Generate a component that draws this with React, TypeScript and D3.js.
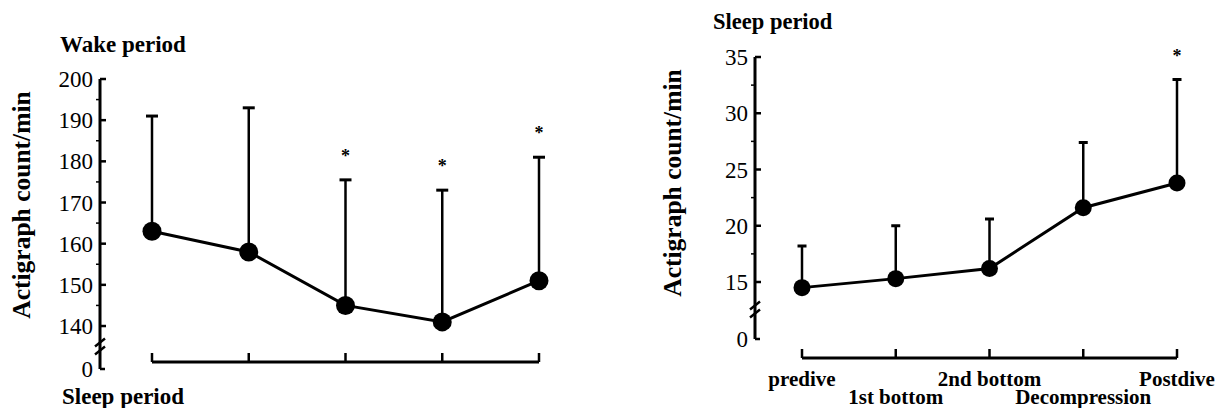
import React from "react";
import * as d3 from "d3";

// categories shared by both panels
const phases = ["predive", "1st bottom", "2nd bottom", "Decompression", "Postdive"];

// wake period (left panel)
const wakeMean = [163, 158, 145, 141, 151];
const wakeSD = [28, 35, 30.5, 32, 30];
const wakeSig = [false, false, true, true, true];
const wakeTicks = [140, 150, 160, 170, 180, 190, 200];

// sleep period (right panel)
const sleepMean = [14.5, 15.3, 16.2, 21.6, 23.8];
const sleepSD = [3.7, 4.7, 4.4, 5.8, 9.2];
const sleepSig = [false, false, false, false, true];
const sleepTicks = [15, 20, 25, 30, 35];

const serif = "'Liberation Serif', 'Times New Roman', serif";

type PanelProps = {
  mean: number[];
  sd: number[];
  sig: boolean[];
  ticks: number[];
  yDomain: number[];
  yRange: number[];
  axisX: number;
  xRange: [number, number];
  baseY: number;
  r: number;
  cap: number;
  showCats: boolean;
};

const Panel = ({ mean, sd, sig, ticks, yDomain, yRange, axisX, xRange, baseY, r, cap, showCats }: PanelProps) => {
  // piecewise scale: 0 at the bottom, then the broken section
  const y = d3.scaleLinear().domain(yDomain).range(yRange);
  const x = d3.scalePoint().domain(phases).range(xRange);
  const step = ticks[1] - ticks[0];
  const top = ticks[ticks.length - 1];
  const minor = ticks.slice(0, -1).map((t) => t + step / 2);
  const y0 = y(0);
  const yb = (y(ticks[0]) + y0) / 2 - 1;

  const pts = mean.map((m, i) => ({ cx: x(phases[i])!, m, s: sd[i], sig: sig[i] }));
  const line = d3
    .line<{ cx: number; m: number }>()
    .x((d) => d.cx)
    .y((d) => y(d.m));

  return (
    <g>
      {/* y axis */}
      <line x1={axisX} x2={axisX} y1={y(top)} y2={y0} stroke="#000" strokeWidth={3} />
      {ticks.map((t) => (
        <g key={t}>
          <line x1={axisX} x2={axisX + 6} y1={y(t)} y2={y(t)} stroke="#000" strokeWidth={2.5} />
          <text x={axisX - 7} y={y(t)} dy="0.35em" textAnchor="end" fontFamily={serif} fontSize={23}>
            {t}
          </text>
        </g>
      ))}
      {minor.map((t) => (
        <line key={t} x1={axisX - 4} x2={axisX} y1={y(t)} y2={y(t)} stroke="#000" strokeWidth={1.5} />
      ))}
      <line x1={axisX} x2={axisX + 5} y1={y0} y2={y0} stroke="#000" strokeWidth={2.5} />
      <text x={axisX - 7} y={y0} dy="0.35em" textAnchor="end" fontFamily={serif} fontSize={23}>
        0
      </text>
      {/* axis break */}
      {[-4, 4].map((o) => (
        <line key={o} x1={axisX - 5} x2={axisX + 5} y1={yb + o + 4} y2={yb + o - 4} stroke="#000" strokeWidth={2.5} />
      ))}

      {/* x axis */}
      <line x1={xRange[0]} x2={xRange[1]} y1={baseY} y2={baseY} stroke="#000" strokeWidth={3} />
      {phases.map((p) => (
        <line key={p} x1={x(p)} x2={x(p)} y1={baseY} y2={baseY - 9} stroke="#000" strokeWidth={2.5} />
      ))}
      {showCats &&
        phases.map((p, i) => (
          <text
            key={p}
            x={x(p)}
            y={baseY + (i % 2 === 0 ? 28 : 46)}
            textAnchor="middle"
            fontFamily={serif}
            fontWeight="bold"
            fontSize={21}
          >
            {p}
          </text>
        ))}

      {/* error bars (upper only) */}
      {pts.map((d, i) => (
        <g key={i}>
          <line x1={d.cx} x2={d.cx} y1={y(d.m)} y2={y(d.m + d.s)} stroke="#000" strokeWidth={2.5} />
          <line x1={d.cx - cap / 2} x2={d.cx + cap / 2} y1={y(d.m + d.s)} y2={y(d.m + d.s)} stroke="#000" strokeWidth={3} />
          {d.sig && (
            <text x={d.cx} y={y(d.m + d.s) - 18} textAnchor="middle" fontFamily={serif} fontWeight="bold" fontSize={18}>
              *
            </text>
          )}
        </g>
      ))}
      <path d={line(pts) ?? ""} fill="none" stroke="#000" strokeWidth={3} />
      {pts.map((d, i) => (
        <circle key={i} cx={d.cx} cy={y(d.m)} r={r} fill="#000" />
      ))}
    </g>
  );
};

const App = () => {
  return (
    <svg width={1224} height={408} style={{ position: "absolute", left: 0, top: 0, background: "#fff" }}>
      {/* left panel */}
      <text x={60} y={52} fontFamily={serif} fontWeight="bold" fontSize={23}>
        Wake period
      </text>
      <text
        transform="translate(30,205) rotate(-90)"
        textAnchor="middle"
        fontFamily={serif}
        fontWeight="bold"
        fontSize={25.5}
      >
        Actigraph count/min
      </text>
      <Panel
        mean={wakeMean}
        sd={wakeSD}
        sig={wakeSig}
        ticks={wakeTicks}
        yDomain={[0, 135, 200]}
        yRange={[369, 346.6, 79]}
        axisX={100}
        xRange={[152, 539]}
        baseY={362}
        r={9.5}
        cap={12}
        showCats={false}
      />
      <text x={62} y={404} fontFamily={serif} fontWeight="bold" fontSize={23}>
        Sleep period
      </text>

      {/* right panel */}
      <text x={713} y={29} fontFamily={serif} fontWeight="bold" fontSize={22.5}>
        Sleep period
      </text>
      <text
        transform="translate(681,183) rotate(-90)"
        textAnchor="middle"
        fontFamily={serif}
        fontWeight="bold"
        fontSize={25.5}
      >
        Actigraph count/min
      </text>
      <Panel
        mean={sleepMean}
        sd={sleepSD}
        sig={sleepSig}
        ticks={sleepTicks}
        yDomain={[0, 12, 35]}
        yRange={[339, 315.75, 57]}
        axisX={755}
        xRange={[802, 1177]}
        baseY={358}
        r={8.5}
        cap={9}
        showCats={true}
      />
    </svg>
  );
};

export default App;
